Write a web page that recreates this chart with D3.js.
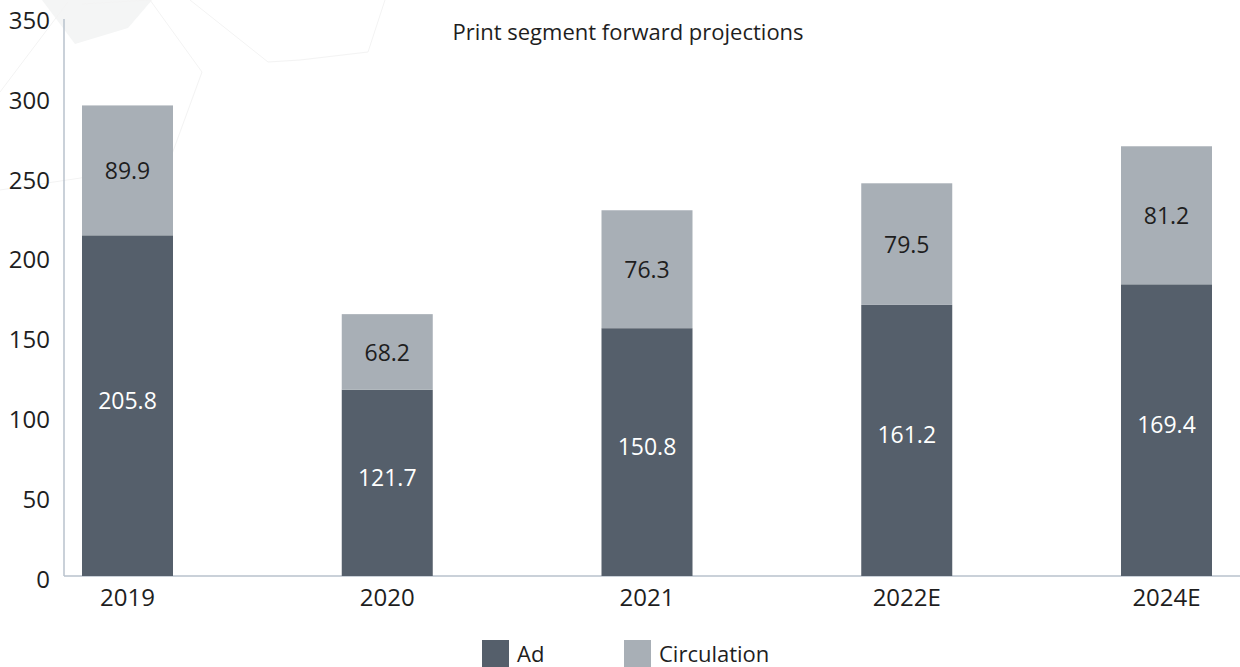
<!DOCTYPE html>
<html>
<head>
<meta charset="utf-8">
<script src="https://cdnjs.cloudflare.com/ajax/libs/d3/7.8.5/d3.min.js"></script>
<style>
  body { margin: 0; background: #fff; }
  text { font-family: "Open Sans", sans-serif; fill: #1e1e1e; }
</style>
</head>
<body>
<div id="chartContainer"></div>
<script>
// values
var years = ["2019", "2020", "2021", "2022E", "2024E"];
var adValues = [213.5, 116.7, 155.3, 169.9, 182.8];
var circValues = [81.4, 47.4, 73.9, 76.2, 86.5];
// labels printed on the bars
var adLabels = ["205.8", "121.7", "150.8", "161.2", "169.4"];
var circLabels = ["89.9", "68.2", "76.3", "79.5", "81.2"];
var yTicks = [0, 50, 100, 150, 200, 250, 300, 350];
var seriesNames = ["Ad", "Circulation"];

var W = 1240, H = 667;
var colors = { Ad: "#555f6b", Circulation: "#a8afb6" };

var svg = d3.select("#chartContainer").append("svg")
  .attr("width", W).attr("height", H);

// faint background hexagons
var bg = svg.append("g");
bg.append("polygon")
  .attr("points", "42,0 152,0 128,28 75,44")
  .attr("fill", "#f4f5f5");
["0,92 68,2", "82,4 150,0 202,72 168,165 0,190",
 "190,0 268,62 300,60 368,52 385,0"].forEach(function (p) {
  bg.append("polyline").attr("points", p)
    .attr("fill", "none").attr("stroke", "#f3f3f3").attr("stroke-width", 1);
});

var x = d3.scalePoint().domain(years).range([127.5, 1166.5]);
var barW = 91;
var y = d3.scaleLinear().domain([0, 350]).range([576, 17.5]);

// y tick labels, no tick marks
svg.selectAll(".ytick").data(yTicks).enter().append("text")
  .attr("x", 50)
  .attr("y", function (d) { return y(d) + 2; })
  .attr("text-anchor", "end")
  .attr("dominant-baseline", "central")
  .style("font-size", "24px")
  .text(function (d) { return d; });

// axis lines
svg.append("line").attr("x1", 64).attr("x2", 64)
  .attr("y1", 19).attr("y2", 576)
  .attr("stroke", "#b9c2cd").attr("stroke-width", 1.5);
svg.append("line").attr("x1", 64).attr("x2", W)
  .attr("y1", 576).attr("y2", 576)
  .attr("stroke", "#b9c2cd").attr("stroke-width", 1.5);

// stacked bars
var rows = years.map(function (yr, i) {
  return { year: yr, Ad: adValues[i], Circulation: circValues[i] };
});
var stack = d3.stack().keys(seriesNames)(rows);

stack.forEach(function (layer, li) {
  var g = svg.append("g");
  g.selectAll("rect").data(layer).enter().append("rect")
    .attr("x", function (d) { return x(d.data.year) - barW / 2; })
    .attr("y", function (d) { return y(d[1]); })
    .attr("width", barW)
    .attr("height", function (d) { return y(d[0]) - y(d[1]); })
    .attr("fill", colors[layer.key]);
  var labs = li === 0 ? adLabels : circLabels;
  g.selectAll("text").data(layer).enter().append("text")
    .attr("x", function (d) { return x(d.data.year); })
    .attr("y", function (d) { return (y(d[0]) + y(d[1])) / 2 - (li === 0 ? 6 : 0); })
    .attr("text-anchor", "middle")
    .attr("dominant-baseline", "central")
    .style("font-size", "23px")
    .style("fill", li === 0 ? "#ffffff" : "#1e1e1e")
    .text(function (d, i) { return labs[i]; });
});

// x labels
svg.selectAll(".xlab").data(years).enter().append("text")
  .attr("x", function (d) { return x(d); })
  .attr("y", 596)
  .attr("text-anchor", "middle")
  .attr("dominant-baseline", "central")
  .style("font-size", "24px")
  .text(function (d) { return d; });

// title
svg.append("text").attr("x", 628).attr("y", 31)
  .attr("text-anchor", "middle")
  .attr("dominant-baseline", "central")
  .style("font-size", "22px")
  .text("Print segment forward projections");

// legend
var legX = [482, 624];
seriesNames.forEach(function (s, i) {
  svg.append("rect").attr("x", legX[i]).attr("y", 640)
    .attr("width", 27).attr("height", 27).attr("fill", colors[s]);
  svg.append("text").attr("x", legX[i] + 35).attr("y", 653)
    .attr("dominant-baseline", "central")
    .style("font-size", "22px")
    .text(s);
});
</script>
</body>
</html>
